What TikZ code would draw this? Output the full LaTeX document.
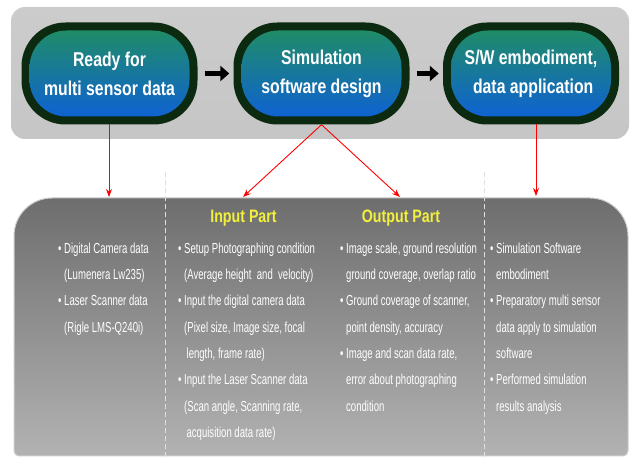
\documentclass[tikz,border=0pt]{standalone}
\usepackage{fontspec}
\setmainfont{Liberation Sans}
\newfontfamily\boxfont[FakeStretch=0.79]{Liberation Sans}
\newfontfamily\listfont[FakeStretch=0.66]{Liberation Sans}
\usetikzlibrary{positioning,arrows.meta,calc}

\definecolor{pilldark}{HTML}{0C2A10}
\definecolor{pilltop}{HTML}{1F8C68}
\definecolor{pillmid}{HTML}{1A8296}
\definecolor{pillbot}{HTML}{0F62D2}
\definecolor{headyellow}{HTML}{F2F03C}

\tikzset{
  pillouter/.style={fill=pilldark, rounded corners=44pt, minimum width=176pt, minimum height=102pt, inner sep=0pt},
  pillinner/.style={top color=pilltop, middle color=pillmid, bottom color=pillbot, rounded corners=37pt,
    minimum width=160pt, minimum height=86pt, inner sep=0pt, text=white, align=center,
    font=\boxfont\bfseries\fontsize{20}{29}\selectfont},
  flowarrow/.style={line width=5pt, -{Triangle[length=9pt,width=15pt]}, shorten <=7pt, shorten >=4pt},
  redarrow/.style={red, line width=0.9pt, -{Stealth[length=8pt,width=6pt]}},
  headtext/.style={text=headyellow, font=\boxfont\bfseries\fontsize{18}{18}\selectfont, inner sep=0pt},
  listtext/.style={text=white, align=left, anchor=north west, inner sep=0pt,
    font=\listfont\fontsize{14.5}{26.3}\selectfont},
  divider/.style={gray!25, line width=0.8pt, dash pattern=on 5pt off 3pt}
}
\newcommand{\ind}{\hphantom{\textbullet\ }}

\begin{document}
\begin{tikzpicture}[x=1pt, y=-1pt]
    \useasboundingbox (0,0) rectangle (630,462);
    \shade[top color=gray!40, middle color=gray!8, bottom color=gray!45, rounded corners=14pt] (11,7) rectangle (629,139);
    \shade[top color=black!57, bottom color=black!30, draw=gray!40, line width=1pt]
      [rounded corners=38pt] (14,300) -- (14,198) -- (628,198) -- (628,300)
      [rounded corners=5pt] -- (628,456) -- (14,456) -- cycle;
    \draw[divider] (165,172) -- (165,460);
    \draw[divider] (484,172) -- (484,460);

    \node[pillouter] (ready) at (109.5,73.5) {};
    \node[pillinner] (readyin) at (ready) {Ready for\\multi sensor data};
    \node[pillouter] (design) at (321.5,73.5) {};
    \node[pillinner] (designin) at (design) {Simulation\\software design};
    \node[pillouter] (apply) at (531,73.5) {};
    \node[pillinner] (applyin) at (apply) {S/W embodiment,\\\ data application};

    \draw[flowarrow] (ready.east) -- (design.west);
    \draw[flowarrow] (design.east) -- (apply.west);

    \coordinate (sensortip) at (109,197);
    \coordinate (inputtip) at (243,197);
    \coordinate (outputtip) at (400,197);
    \coordinate (applytip) at (536,196);
    \draw[redarrow] (109,124) -- (sensortip);
    \draw[redarrow] (design.south) -- (inputtip);
    \draw[redarrow] (design.south) -- (outputtip);
    \draw[redarrow] (536,124) -- (applytip);

    \node[headtext] (inputhead) at (243.5,218.5) {Input Part};
    \node[headtext] (outputhead) at (401,218.5) {Output Part};

    \node[listtext] (sensorlist) at (58,242.5) {\textbullet\ Digital Camera data\\\ind(Lumenera Lw235)\\\textbullet\ Laser Scanner data\\\ind(Rigle LMS-Q240i)};
    \node[listtext] (inputlist) at (178,242.5) {\textbullet\ Setup Photographing condition\\\ind(Average height\ \ and\ \ velocity)\\\textbullet\ Input the digital camera data\\\ind(Pixel size, Image size, focal\\\ind\,length, frame rate)\\\textbullet\ Input the Laser Scanner data\\\ind(Scan angle, Scanning rate,\\\ind\,acquisition data rate)};
    \node[listtext] (outputlist) at (340,242.5) {\textbullet\ Image scale, ground resolution\\\ind ground coverage, overlap ratio\\\textbullet\ Ground coverage of scanner,\\\ind point density, accuracy\\\textbullet\ Image and scan data rate,\\\ind error about photographing\\\ind condition};
    \node[listtext] (applylist) at (490,242.5) {\textbullet\ Simulation Software\\\ind embodiment\\\textbullet\ Preparatory multi sensor\\\ind data apply to simulation\\\ind software\\\textbullet\ Performed simulation\\\ind results analysis};
\end{tikzpicture}
\end{document}
